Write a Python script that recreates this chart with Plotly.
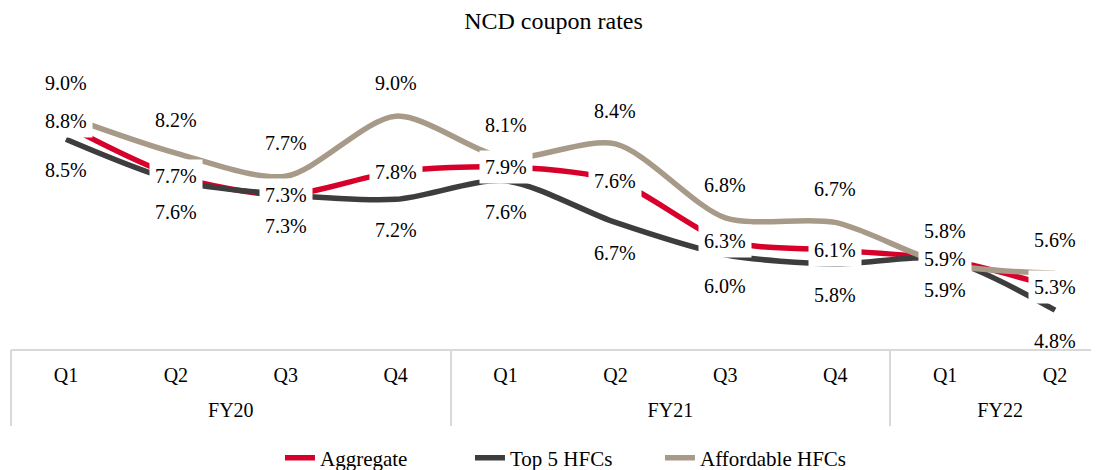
import plotly.graph_objects as go

years = ["FY20"] * 4 + ["FY21"] * 4 + ["FY22"] * 2
quarters = ["Q1", "Q2", "Q3", "Q4", "Q1", "Q2", "Q3", "Q4", "Q1", "Q2"]

aggregate = [8.8, 7.7, 7.3, 7.8, 7.9, 7.6, 6.3, 6.1, 5.9, 5.3]
top5 = [8.5, 7.6, 7.3, 7.2, 7.6, 6.7, 6.0, 5.8, 5.9, 4.8]
affordable = [9.0, 8.2, 7.7, 9.0, 8.1, 8.4, 6.8, 6.7, 5.8, 5.6]

FONT = "Liberation Serif, Times New Roman, serif"
RED = "#D7002A"
DARK = "#3D3D3D"
TAN = "#A89A88"
GRID = "#D9D9D9"
CLEAR = "rgba(0,0,0,0)"

idx = list(range(len(quarters)))

# fiscal-year groups: centres (for labels) and boundaries (for dividers)
groups = []
for i, yname in enumerate(years):
    if not groups or groups[-1][0] != yname:
        groups.append([yname, i, i])
    else:
        groups[-1][2] = i
group_names = [g[0] for g in groups]
group_centres = [(g[1] + g[2]) / 2 for g in groups]
group_bounds = [groups[0][1] - 0.5] + [g[2] + 0.5 for g in groups]

fig = go.Figure()
series = [("Aggregate", aggregate, RED), ("Top 5 HFCs", top5, DARK), ("Affordable HFCs", affordable, TAN)]
for name, vals, col in series:
    fig.add_trace(go.Scatter(
        x=idx, y=vals, name=name, mode="lines",
        line=dict(color=col, width=5.5, shape="spline", smoothing=0.8),
        hoverinfo="skip",
    ))

# carrier traces (no visible marks) so the group-label and divider axes are drawn
fig.add_trace(go.Scatter(x=group_centres, y=[None] * len(group_centres), xaxis="x2",
                         mode="lines", showlegend=False, hoverinfo="skip"))
fig.add_trace(go.Scatter(x=group_bounds, y=[None] * len(group_bounds), xaxis="x3",
                         mode="lines", showlegend=False, hoverinfo="skip"))

annotations = []
for i, v in enumerate(affordable):
    annotations.append(dict(x=i, y=v, xref="x", yref="y", text=f"{v:.1f}%", showarrow=False,
                            yshift=33, font=dict(family=FONT, size=20, color="#000")))
for i, v in enumerate(top5):
    annotations.append(dict(x=i, y=v, xref="x", yref="y", text=f"{v:.1f}%", showarrow=False,
                            yshift=-31, font=dict(family=FONT, size=20, color="#000")))
for i, v in enumerate(aggregate):
    annotations.append(dict(x=i, y=v, xref="x", yref="y", text=f"{v:.1f}%", showarrow=False,
                            yshift=(4 if i == 0 else 0), bgcolor="white", borderpad=5,
                            font=dict(family=FONT, size=20, color="#000")))

XRANGE = [-0.5, 9.4]
W, H = 1091, 462

fig.update_layout(
    width=W, height=H,
    margin=dict(l=3, r=0, t=62, b=121),
    paper_bgcolor="white", plot_bgcolor="white",
    title=dict(text="NCD coupon rates", x=0.5, xanchor="center", y=1 - 4 / H, yanchor="top",
               pad=dict(t=0, b=0), font=dict(family=FONT, size=24, color="#000")),
    showlegend=True,
    legend=dict(orientation="h", x=0.5 + 10 / W, xanchor="center", yref="container", y=1 - 450 / H,
                yanchor="middle", font=dict(family=FONT, size=21, color="#000"),
                entrywidth=145, entrywidthmode="pixels"),
    annotations=annotations,
    font=dict(family=FONT, size=20, color="#000"),
    xaxis=dict(range=XRANGE, tickmode="array", tickvals=idx, ticktext=quarters,
               showline=True, linecolor=GRID, linewidth=2, showgrid=False, zeroline=False,
               ticks="outside", ticklen=7, tickcolor=CLEAR,
               tickfont=dict(family=FONT, size=20, color="#000")),
    xaxis2=dict(range=XRANGE, overlaying="x", anchor="y", side="bottom", tickmode="array",
                tickvals=group_centres, ticktext=group_names, showline=False, showgrid=False,
                zeroline=False, ticks="outside", ticklen=43, tickcolor=CLEAR,
                tickfont=dict(family=FONT, size=20, color="#000")),
    xaxis3=dict(range=XRANGE, overlaying="x", anchor="y", side="bottom", tickmode="array",
                tickvals=group_bounds, showticklabels=False, showline=False, showgrid=False,
                zeroline=False, ticks="outside", ticklen=76, tickcolor=GRID, tickwidth=2),
    yaxis=dict(range=[3.96, 10.0], visible=False, showgrid=False, zeroline=False),
)

fig.write_html("out.html")
